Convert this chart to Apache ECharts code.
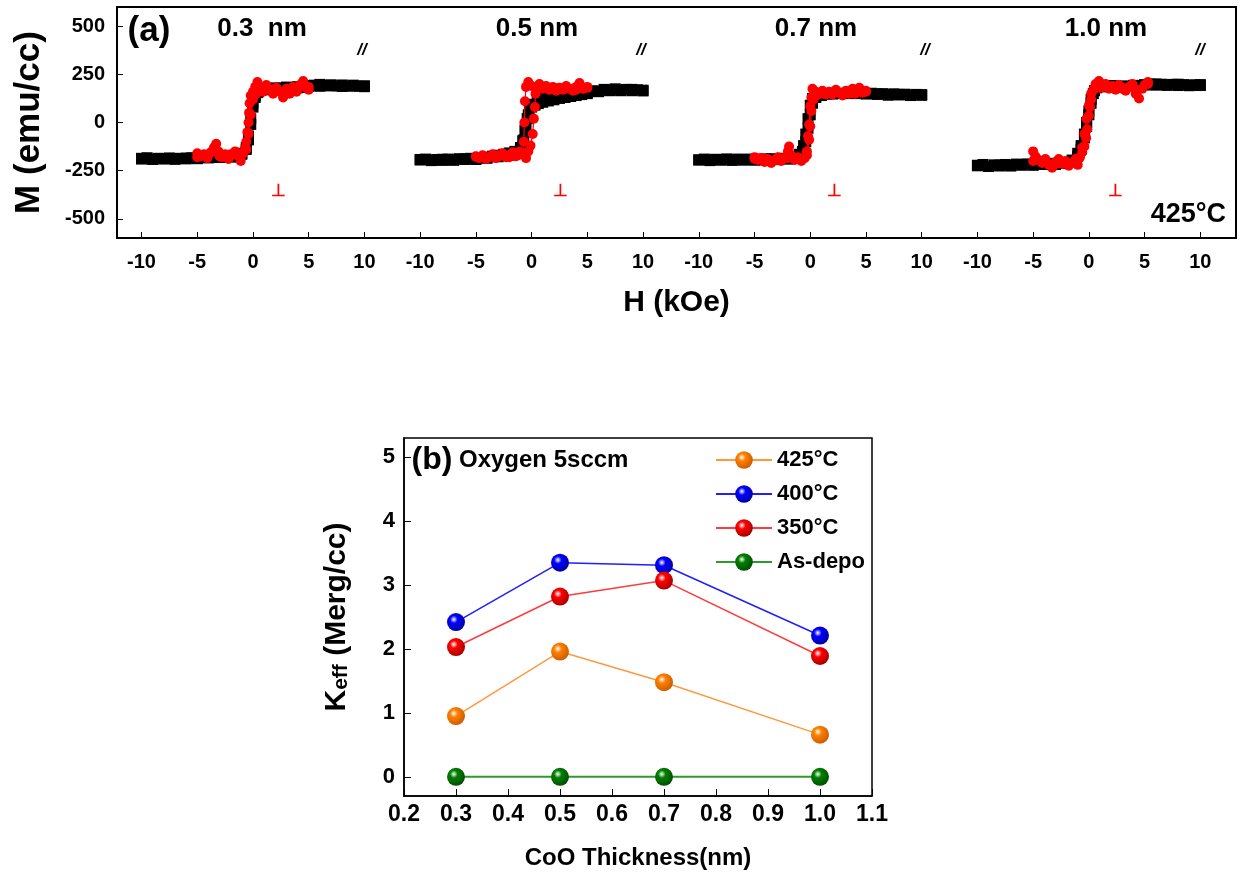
<!DOCTYPE html>
<html>
<head>
<meta charset="utf-8">
<script src="https://cdn.jsdelivr.net/npm/echarts@6/dist/echarts.min.js"></script>
<style>
html, body { margin: 0; padding: 0; background: #fff; }
#main { width: 1242px; height: 875px; }
</style>
</head>
<body>
<div id="main"></div>
<script>
// ---- panel (a): M-H loops, H in kOe, M in emu/cc ----
var samples = ['0.3  nm', '0.5 nm', '0.7 nm', '1.0 nm'];
var hTicks = [-10, -5, 0, 5, 10];
var mTicks = [-500, -250, 0, 250, 500];
var segOffset = 25; // each loop is drawn 25 kOe further right on the shared axis

var black03 = [[-10,-190],[-9.5,-183],[-9,-192],[-8.5,-186],[-8,-190],[-7.5,-184],[-7,-191],[-6.5,-186],[-6,-189],[-5.5,-183],[-5,-186],[-4.5,-180],[-4,-184],[-3.5,-178],[-3,-182],[-2.5,-176],[-2,-180],[-1.5,-172],[-1,-165],[-0.6,-140],[-0.4,-90],[-0.2,-10],[0,80],[0.2,130],[0.4,155],[0.7,168],[1,172],[1.5,176],[2,180],[2.5,178],[3,184],[3.5,180],[4,186],[4.5,182],[5,188],[5.5,194],[6,198],[6.5,191],[7,196],[7.5,190],[8,195],[8.5,189],[9,194],[9.5,188],[10,191],
  [10,186],[9,190],[8,187],[7,191],[6,188],[5,192],[4,180],[3,178],[2,176],[1,170],[0.5,160],[0.2,140],[0,100],[-0.2,20],[-0.4,-70],[-0.6,-130],[-1,-160],[-2,-176],[-3,-180],[-4,-182],[-5,-188],[-6,-185],[-7,-190],[-8,-187],[-9,-190],[-10,-186]];
var red03 = [[-5,-160],[-4.7,-175],[-4.4,-165],[-4.1,-185],[-3.8,-155],[-3.5,-130],[-3.3,-110],[-3.1,-150],[-2.8,-180],[-2.5,-165],[-2.2,-190],[-1.9,-170],[-1.6,-150],[-1.3,-175],[-1.1,-200],[-0.9,-160],[-0.7,-130],[-0.6,-100],[-0.5,-50],[-0.4,0],[-0.35,50],[-0.3,100],[-0.2,140],[0,160],[0.2,185],[0.4,210],[0.6,175],[0.9,160],[1.2,195],[1.5,170],[1.8,150],[2.1,180],[2.4,160],[2.7,130],[3,175],[3.3,150],[3.6,185],[3.9,160],[4.2,195],[4.5,215],[4.8,180],[5,170],
  [5,185],[4,170],[3,160],[2,175],[1,165],[0.3,150],[0,120],[-0.2,40],[-0.4,-60],[-0.6,-140],[-1,-170],[-2,-165],[-3,-175],[-4,-170],[-5,-180]];

var black05 = [[-10,-195],[-9.5,-190],[-9,-198],[-8.5,-192],[-8,-197],[-7.5,-190],[-7,-195],[-6.5,-188],[-6,-192],[-5.5,-186],[-5,-190],[-4.5,-183],[-4,-180],[-3.5,-175],[-3,-170],[-2.5,-165],[-2,-158],[-1.5,-150],[-1,-130],[-0.8,-95],[-0.6,-40],[-0.4,20],[-0.2,60],[0,80],[0.3,90],[0.6,98],[1,105],[1.5,112],[2,118],[2.5,125],[3,130],[3.5,135],[4,140],[4.5,145],[5,150],[5.5,165],[6,160],[6.5,172],[7,165],[7.5,175],[8,168],[8.5,172],[9,165],[9.5,170],[10,164],
  [10,168],[9,172],[8,165],[7,170],[6,162],[5,155],[4,150],[3,145],[2,140],[1,130],[0.5,115],[0,95],[-0.3,40],[-0.5,-30],[-0.7,-90],[-1,-140],[-1.5,-160],[-2,-170],[-3,-178],[-4,-186],[-5,-192],[-6,-189],[-7,-196],[-8,-191],[-9,-196],[-10,-192]];
var red05 = [[-5,-175],[-4.7,-185],[-4.4,-170],[-4.1,-190],[-3.8,-180],[-3.5,-165],[-3.2,-185],[-2.9,-175],[-2.6,-160],[-2.3,-180],[-2,-170],[-1.7,-155],[-1.4,-175],[-1.1,-150],[-0.8,-165],[-0.5,-185],[-0.3,-150],[-0.1,-120],[0.1,-60],[0.2,20],[0.3,80],[0.35,150],[0.4,185],[0.7,200],[1,175],[1.3,190],[1.6,170],[1.9,185],[2.2,165],[2.5,180],[2.8,170],[3.1,190],[3.4,175],[3.7,165],[4,185],[4.3,205],[4.6,175],[5,185],
  [5,180],[4,170],[3,175],[2,180],[1,185],[0,190],[-0.3,210],[-0.5,185],[-0.6,110],[-0.65,0],[-0.7,-100],[-0.8,-160],[-1.2,-170],[-2,-180],[-3,-170],[-4,-180],[-5,-178]];

var black07 = [[-10,-195],[-9.5,-190],[-9,-197],[-8.5,-191],[-8,-196],[-7.5,-189],[-7,-194],[-6.5,-190],[-6,-196],[-5.5,-190],[-5,-193],[-4.5,-190],[-4,-195],[-3.5,-188],[-3,-192],[-2.5,-186],[-2,-190],[-1.5,-180],[-1,-165],[-0.6,-120],[-0.4,-60],[-0.2,20],[0,90],[0.2,125],[0.5,140],[1,145],[1.5,148],[2,150],[3,152],[4,150],[5,148],[5.5,152],[6,146],[6.5,150],[7,144],[7.5,149],[8,143],[8.5,147],[9,142],[9.5,146],[10,141],
  [10,145],[9,140],[8,146],[7,142],[6,148],[5,150],[4,155],[3,150],[2,148],[1,140],[0.5,130],[0.2,100],[0,40],[-0.2,-30],[-0.4,-100],[-0.7,-150],[-1,-175],[-2,-188],[-3,-193],[-4,-190],[-5,-196],[-6,-192],[-7,-197],[-8,-193],[-9,-198],[-10,-194]];
var red07 = [[-5,-180],[-4.7,-195],[-4.4,-185],[-4.1,-205],[-3.8,-190],[-3.5,-210],[-3.2,-195],[-2.9,-180],[-2.6,-200],[-2.3,-185],[-2,-150],[-1.9,-125],[-1.7,-170],[-1.4,-195],[-1.1,-180],[-0.8,-200],[-0.5,-185],[-0.3,-150],[-0.2,-70],[-0.1,-10],[0,85],[0.1,130],[0.2,175],[0.5,160],[0.8,150],[1.1,165],[1.4,145],[1.7,160],[2,150],[2.3,170],[2.6,155],[2.9,140],[3.2,165],[3.5,150],[3.8,175],[4.1,160],[4.4,180],[4.7,155],[5,165],
  [5,160],[4,150],[3,155],[2,145],[1,150],[0.5,140],[0.3,120],[0.1,60],[0,-20],[-0.1,-90],[-0.3,-170],[-1,-190],[-2,-185],[-3,-195],[-4,-190],[-5,-188]];

var black10 = [[-10,-225],[-9.5,-218],[-9,-228],[-8.5,-220],[-8,-226],[-7.5,-218],[-7,-224],[-6.5,-216],[-6,-222],[-5.5,-215],[-5,-220],[-4.5,-214],[-4,-218],[-3.5,-212],[-3,-216],[-2.5,-210],[-2,-212],[-1.5,-200],[-1,-175],[-0.7,-140],[-0.4,-80],[-0.2,-20],[0,40],[0.2,100],[0.4,150],[0.7,180],[1,190],[1.5,188],[2,192],[3,190],[4,193],[5,196],[5.5,200],[6,194],[6.5,199],[7,193],[7.5,198],[8,192],[8.5,197],[9,191],[9.5,196],[10,192],
  [10,197],[9,193],[8,199],[7,194],[6,200],[5,195],[4,190],[3,188],[2,190],[1,185],[0.5,165],[0.2,120],[0,60],[-0.2,0],[-0.4,-60],[-0.7,-120],[-1,-160],[-1.5,-195],[-2,-210],[-3,-218],[-4,-215],[-5,-222],[-6,-219],[-7,-226],[-8,-221],[-9,-228],[-10,-222]];
var red10 = [[-5,-150],[-4.8,-175],[-4.5,-195],[-4.2,-210],[-3.9,-190],[-3.6,-220],[-3.3,-235],[-3,-205],[-2.7,-190],[-2.4,-215],[-2.1,-200],[-1.8,-225],[-1.5,-210],[-1.2,-190],[-1,-220],[-0.8,-180],[-0.6,-155],[-0.4,-125],[-0.25,-80],[-0.15,-35],[0,35],[0.1,80],[0.2,120],[0.4,170],[0.6,200],[0.9,215],[1.2,185],[1.5,200],[1.8,175],[2.1,190],[2.4,170],[2.7,195],[3,180],[3.3,165],[3.6,185],[3.9,200],[4.2,150],[4.5,125],[4.8,175],[5,195],[5.3,210],
  [5.3,200],[4,180],[3,175],[2,185],[1,180],[0.5,175],[0.2,150],[0,90],[-0.2,20],[-0.4,-60],[-0.6,-130],[-1,-190],[-2,-210],[-3,-215],[-4,-205],[-5,-200]];

var blackLoops = [black03, black05, black07, black10];
var redLoops = [red03, red05, red07, red10];

// ---- panel (b): Keff vs CoO thickness ----
var thickness = [0.3, 0.5, 0.7, 1.0];
var k425 = [0.95, 1.96, 1.48, 0.66];
var k400 = [2.42, 3.35, 3.31, 2.21];
var k350 = [2.03, 2.82, 3.07, 1.89];
var kAsDepo = [0, 0, 0, 0];

var FONT = "'Liberation Sans', Arial, Helvetica, sans-serif";

function shift(loop, i) {
    return loop.map(function (p) { return [p[0] + i * segOffset, p[1]]; });
}
function pairs(ys) {
    return thickness.map(function (t, i) { return [t, ys[i]]; });
}
function ball(c, dark) {
    return {
        type: 'radial', x: 0.38, y: 0.35, r: 0.7,
        colorStops: [
            { offset: 0, color: '#ffffff' },
            { offset: 0.3, color: c },
            { offset: 1, color: dark }
        ]
    };
}

var hValues = [];
for (var s = 0; s < samples.length; s++) {
    for (var t = 0; t < hTicks.length; t++) hValues.push(hTicks[t] + s * segOffset);
}

var series = [];
for (var i = 0; i < blackLoops.length; i++) {
    series.push({
        type: 'line', xAxisIndex: 0, yAxisIndex: 0,
        data: shift(blackLoops[i], i),
        symbol: 'rect', symbolSize: 11,
        lineStyle: { color: '#000', width: 3 },
        itemStyle: { color: '#000' },
        silent: true, z: 2
    });
}
for (var j = 0; j < redLoops.length; j++) {
    series.push({
        type: 'line', xAxisIndex: 0, yAxisIndex: 0,
        data: shift(redLoops[j], j),
        symbol: 'circle', symbolSize: 10,
        lineStyle: { color: '#ff0000', width: 1.2 },
        itemStyle: { color: '#ff0000' },
        silent: true, z: 3
    });
}

var bSeries = [
    { name: '425°C', data: k425, line: '#ff9a3c', c: '#ff8000', dark: '#c85a00' },
    { name: '400°C', data: k400, line: '#1f1fff', c: '#0000ff', dark: '#00009a' },
    { name: '350°C', data: k350, line: '#ff3b3b', c: '#ff0000', dark: '#a00000' },
    { name: 'As-depo', data: kAsDepo, line: '#2e9a2e', c: '#008000', dark: '#004c00' }
];
bSeries.forEach(function (b) {
    series.push({
        name: b.name, type: 'line', xAxisIndex: 1, yAxisIndex: 1,
        data: pairs(b.data),
        symbol: 'circle', symbolSize: 18,
        lineStyle: { color: b.line, width: b.name === 'As-depo' ? 2 : 1.5 },
        itemStyle: { color: ball(b.c, b.dark) },
        z: 3
    });
});

function txt(x, y, text, size, opts) {
    opts = opts || {};
    return {
        type: 'text', x: x, y: y, z: 10,
        style: {
            text: text, fill: opts.color || '#000',
            font: (opts.italic ? 'italic ' : '') + 'bold ' + size + 'px ' + FONT,
            align: opts.align || 'center', verticalAlign: 'middle'
        }
    };
}

var graphics = [
    txt(149, 31, '(a)', 35),
    txt(262, 29, samples[0], 26),
    txt(537, 29, samples[1], 26),
    txt(816, 29, samples[2], 26),
    txt(1106, 29, samples[3], 26),
    txt(1226, 215, '425°C', 27, { align: 'right' }),
    txt(432, 460, '(b)', 32),
    txt(459, 460, 'Oxygen 5sccm', 24, { align: 'left' })
];
[362, 641, 925, 1200].forEach(function (x) {
    graphics.push(txt(x, 50, '//', 17, { italic: true }));
});
[278, 560, 834, 1115].forEach(function (x) {
    graphics.push(txt(x, 191, '⊥', 17, { color: '#ff0000' }));
});

var chart = echarts.init(document.getElementById('main'));
chart.setOption({
    backgroundColor: '#fff',
    animation: false,
    textStyle: { fontFamily: FONT },
    grid: [
        { left: 117, top: 7, width: 1119, height: 231, show: true, borderColor: '#000', borderWidth: 2 },
        { left: 404, top: 438, width: 468, height: 358, show: true, borderColor: '#000', borderWidth: 1.5 }
    ],
    legend: {
        data: ['425°C', '400°C', '350°C', 'As-depo'],
        orient: 'vertical', left: 710, top: 444,
        itemWidth: 56, itemHeight: 22, itemGap: 12,
        textStyle: { fontFamily: FONT, fontWeight: 'bold', fontSize: 22, color: '#000' }
    },
    xAxis: [
        {
            gridIndex: 0, type: 'value', min: -12.2, max: 88.2,
            name: 'H (kOe)', nameLocation: 'middle', nameGap: 50,
            nameTextStyle: { fontFamily: FONT, fontWeight: 'bold', fontSize: 30, color: '#000' },
            axisLine: { onZero: false, lineStyle: { color: '#000', width: 2 } },
            axisTick: { inside: true, length: 6, customValues: hValues, lineStyle: { color: '#000' } },
            axisLabel: {
                customValues: hValues, margin: 14, color: '#000', fontWeight: 'bold', fontSize: 20,
                formatter: function (v) { return String(Math.round(v - segOffset * Math.round(v / segOffset))); }
            },
            splitLine: { show: false }
        },
        {
            gridIndex: 1, type: 'value', min: 0.2, max: 1.1, interval: 0.1,
            name: 'CoO Thickness(nm)', nameLocation: 'middle', nameGap: 50,
            nameTextStyle: { fontFamily: FONT, fontWeight: 'bold', fontSize: 24, color: '#000' },
            axisLine: { onZero: false, lineStyle: { color: '#000', width: 1.5 } },
            axisTick: { inside: true, length: 7, lineStyle: { color: '#000' } },
            axisLabel: {
                margin: 7, color: '#000', fontWeight: 'bold', fontSize: 23,
                showMinLabel: true, showMaxLabel: true,
                formatter: function (v) { return v.toFixed(1); }
            },
            splitLine: { show: false }
        }
    ],
    yAxis: [
        {
            gridIndex: 0, type: 'value', min: -600, max: 600,
            name: 'M (emu/cc)', nameLocation: 'middle', nameGap: 70,
            nameTextStyle: { fontFamily: FONT, fontWeight: 'bold', fontSize: 35, color: '#000' },
            axisLine: { onZero: false, lineStyle: { color: '#000', width: 2 } },
            axisTick: { inside: true, length: 6, customValues: mTicks, lineStyle: { color: '#000' } },
            axisLabel: { customValues: mTicks, margin: 12, color: '#000', fontWeight: 'bold', fontSize: 20 },
            splitLine: { show: false }
        },
        {
            gridIndex: 1, type: 'value', min: -0.3, max: 5.3,
            name: '{k|K}{s|eff}{k| (Merg/cc)}', nameLocation: 'middle', nameGap: 52,
            nameTextStyle: {
                fontFamily: FONT, fontWeight: 'bold', fontSize: 30, color: '#000',
                rich: {
                    k: { fontFamily: FONT, fontWeight: 'bold', fontSize: 30, color: '#000' },
                    s: { fontFamily: FONT, fontWeight: 'bold', fontSize: 21, color: '#000', verticalAlign: 'bottom', padding: [8, 0, 0, 0] }
                }
            },
            axisLine: { onZero: false, lineStyle: { color: '#000', width: 1.5 } },
            axisTick: { inside: true, length: 7, customValues: [0, 1, 2, 3, 4, 5], lineStyle: { color: '#000' } },
            axisLabel: { customValues: [0, 1, 2, 3, 4, 5], margin: 9, color: '#000', fontWeight: 'bold', fontSize: 22 },
            splitLine: { show: false }
        }
    ],
    series: series,
    graphic: graphics
});
</script>
</body>
</html>
